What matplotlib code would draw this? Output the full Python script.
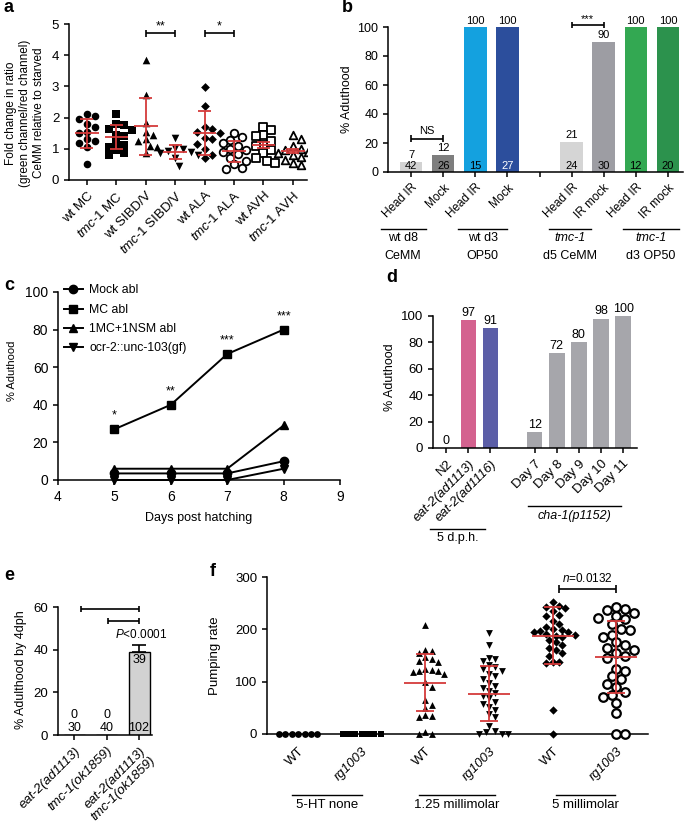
import numpy as np
import matplotlib
matplotlib.use("Agg")
import matplotlib.pyplot as plt

plt.rcParams['font.family'] = ['Liberation Sans', 'DejaVu Sans']
plt.rcParams['mathtext.fontset'] = 'custom'
plt.rcParams['mathtext.rm'] = 'Liberation Sans'
plt.rcParams['mathtext.it'] = 'Liberation Sans:italic'
plt.rcParams['font.size'] = 9
plt.rcParams['axes.linewidth'] = 1.1
plt.rcParams['xtick.major.width'] = 1.1
plt.rcParams['ytick.major.width'] = 1.1
plt.rcParams['xtick.major.size'] = 3.5
plt.rcParams['ytick.major.size'] = 3.5

RED = '#d43a3a'

# ---- panel a: fold change per neuron/genotype
a_labels = ['wt MC', r'$\it{tmc}$-$\it{1}$ MC', 'wt SIBD/V', r'$\it{tmc}$-$\it{1}$ SIBD/V',
            'wt ALA', r'$\it{tmc}$-$\it{1}$ ALA', 'wt AVH', r'$\it{tmc}$-$\it{1}$ AVH']
a_wt_mc = [2.1, 2.05, 1.95, 1.8, 1.7, 1.55, 1.5, 1.3, 1.25, 1.2, 1.05, 0.5]
a_tmc_mc = [2.1, 1.78, 1.75, 1.65, 1.6, 1.45, 1.4, 1.2, 1.12, 1.05, 0.95, 0.85, 0.8]
a_wt_sibd = [3.85, 2.72, 1.82, 1.55, 1.45, 1.3, 1.25, 1.08, 1.05, 0.85]
a_tmc_sibd = [1.35, 1.02, 1.0, 0.93, 0.9, 0.85, 0.8, 0.7, 0.45]
a_wt_ala = [2.97, 2.38, 1.7, 1.65, 1.55, 1.5, 1.35, 1.3, 1.15, 1.0, 0.8, 0.72]
a_tmc_ala = [1.5, 1.38, 1.28, 1.2, 1.1, 1.0, 0.95, 0.9, 0.82, 0.72, 0.62, 0.5, 0.4, 0.35]
a_wt_avh = [1.7, 1.6, 1.45, 1.4, 1.25, 1.12, 1.08, 0.95, 0.85, 0.72, 0.62, 0.55]
a_tmc_avh = [1.45, 1.3, 1.1, 1.0, 0.95, 0.9, 0.88, 0.8, 0.75, 0.65, 0.55, 0.48]
a_mean = [1.5, 1.38, 1.72, 0.9, 1.5, 0.92, 1.12, 0.92]
a_err = [0.47, 0.39, 0.92, 0.22, 0.71, 0.33, 0.1, 0.07]

# ---- panel b: head IR ablation
b_cats = ['Head IR', 'Mock', 'Head IR', 'Mock', 'Head IR', 'IR mock', 'Head IR', 'IR mock']
b_values = [7, 12, 100, 100, 21, 90, 100, 100]
b_n = [42, 26, 15, 27, 24, 30, 12, 20]
b_colors = ['#d2d2d2', '#7e7e7e', '#14a1df', '#2c4e9c', '#d5d5d5', '#9d9da3', '#33a852', '#2c924d']

# ---- panel c: adulthood over days
c_days = [5, 6, 7, 8]
c_mock = [3.5, 3.5, 3.5, 10]
c_mc = [27, 40, 67, 80]
c_mc_nsm = [6, 6, 6, 29]
c_ocr2 = [0, 0, 0, 6]
c_stars = ['*', '**', '***', '***']

# ---- panel d
d_cats = ['N2', 'eat-2(ad1113)', 'eat-2(ad1116)', 'Day 7', 'Day 8', 'Day 9', 'Day 10', 'Day 11']
d_values = [0, 97, 91, 12, 72, 80, 98, 100]
d_colors = ['#a6a6ab', '#d4628f', '#5b5ea7', '#a6a6ab', '#a6a6ab', '#a6a6ab', '#a6a6ab', '#a6a6ab']

# ---- panel e
e_cats = ['eat-2(ad1113)', 'tmc-1(ok1859)', 'eat-2(ad1113)\ntmc-1(ok1859)']
e_values = [0, 0, 39]
e_err = [0, 0, 3]
e_n = [30, 40, 102]

# ---- panel f: pumping rate
f_cats = ['WT', 'rg1003', 'WT', 'rg1003', 'WT', 'rg1003']
f_wt_none = [0, 0, 0, 0, 0, 0, 0]
f_rg_none = [0, 0, 0, 0, 0, 0, 0]
f_wt_125 = [208, 160, 158, 155, 147, 143, 140, 138, 125, 122, 120, 120, 118, 115, 100, 90,
            65, 55, 50, 37, 35, 33, 3, 0, 0]
f_rg_125 = [193, 170, 145, 143, 140, 132, 128, 125, 120, 115, 110, 105, 98, 92, 88, 82, 78,
            72, 68, 62, 58, 52, 45, 38, 32, 15, 5, 3, 0, 0, 0]
f_wt_5 = [252, 245, 243, 240, 235, 228, 225, 215, 210, 205, 200, 198, 197, 195, 195, 192, 190,
          188, 185, 180, 175, 170, 165, 160, 155, 150, 138, 137, 135, 45, 0]
f_rg_5 = [242, 238, 236, 232, 225, 222, 220, 210, 200, 198, 190, 185, 175, 170, 165, 160, 155,
          150, 145, 125, 120, 110, 105, 95, 90, 80, 75, 70, 60, 40, 0, 0]
f_mean = [0, 0, 98, 77, 188, 147]
f_err = [0, 0, 54, 52, 55, 69]


def swarm(vals, dx, dy, step=0.5):
    vals = np.asarray(vals, float)
    xs = np.zeros(len(vals))
    placed = []
    for i in np.argsort(-vals, kind='stable'):
        y = vals[i]
        for k in range(200):
            off = ((k + 1) // 2) * step * dx * (1 if k % 2 else -1)
            if all(((off - px) / dx) ** 2 + ((y - py) / dy) ** 2 >= 1 for px, py in placed):
                break
        xs[i] = off
        placed.append((off, y))
    return xs


def mean_sd(ax, x, m, s, mw, cw, lw=1.3):
    kw = dict(color=RED, lw=lw, zorder=5, solid_capstyle='butt')
    ax.plot([x - mw, x + mw], [m, m], **kw)
    ax.plot([x, x], [m - s, m + s], **kw)
    ax.plot([x - cw, x + cw], [m + s, m + s], **kw)
    ax.plot([x - cw, x + cw], [m - s, m - s], **kw)


def bracket(ax, x0, x1, y, h, lw=1.2):
    kw = dict(color='k', lw=lw, clip_on=False, solid_capstyle='butt')
    ax.plot([x0, x1], [y, y], **kw)
    ax.plot([x0, x0], [y - h, y + h], **kw)
    ax.plot([x1, x1], [y - h, y + h], **kw)


def clean(ax):
    ax.spines['top'].set_visible(False)
    ax.spines['right'].set_visible(False)


W, H = 685, 826
fig = plt.figure(figsize=(W / 100, H / 100), dpi=100)


def add_ax(l, r, t, b):
    return fig.add_axes([l / W, 1 - b / H, (r - l) / W, (b - t) / H])


# ================= a
ax = add_ax(69, 307, 24, 180)
clean(ax)
a_groups = [a_wt_mc, a_tmc_mc, a_wt_sibd, a_tmc_sibd, a_wt_ala, a_tmc_ala, a_wt_avh, a_tmc_avh]
a_markers = ['o', 's', '^', 'v', 'D', 'o', 's', '^']
a_filled = [True, True, True, True, True, False, False, False]
for i, g in enumerate(a_groups):
    xs = i + swarm(g, 0.26, 0.25)
    ms = 30 if a_markers[i] != 'D' else 20
    if a_filled[i]:
        ax.scatter(xs, g, s=ms, marker=a_markers[i], color='k', zorder=3, lw=0)
    else:
        ax.scatter(xs, g, s=ms, marker=a_markers[i], facecolor='white', edgecolor='k', lw=1.3, zorder=3)
    mean_sd(ax, i, a_mean[i], a_err[i], 0.4, 0.22)
ax.set_xlim(-0.61, 7.48)
ax.set_ylim(0, 5)
ax.set_yticks(range(6))
ax.set_xticks(range(8))
ax.set_xticklabels(a_labels, rotation=45, ha='right', rotation_mode='anchor', fontsize=9)
ax.tick_params(labelsize=9.5)
bracket(ax, 2, 3, 4.7, 0.12)
ax.text(2.5, 4.72, '**', ha='center', va='bottom', fontsize=9)
bracket(ax, 4, 5, 4.7, 0.12)
ax.text(4.5, 4.72, '*', ha='center', va='bottom', fontsize=9)
ax.text(-0.185, 0.43, 'Fold change in ratio\n(green channel/red channel)\nCeMM relative to starved',
        transform=ax.transAxes, rotation=90, ha='center', va='center', fontsize=8.5, linespacing=1.25)

# ================= b
ax = add_ax(388, 683, 27, 172)
clean(ax)
b_pos = np.r_[0:4, 5:9]
ax.bar(b_pos, b_values, width=0.7, color=b_colors)
for p, v, n, c in zip(b_pos, b_values, b_n, b_colors):
    ax.text(p, v + 1, str(v), ha='center', va='bottom', fontsize=8, clip_on=False)
    ax.text(p, 0.8, str(n), ha='center', va='bottom', fontsize=8,
            color='white' if c == '#2c4e9c' else 'k')
ax.set_xlim(-0.72, 8.47)
ax.set_ylim(0, 100)
ax.set_yticks(range(0, 101, 20))
ax.set_xticks(range(9))
ax.set_xticklabels(b_cats[:4] + [''] + b_cats[4:], rotation=45, ha='right', rotation_mode='anchor')
ax.tick_params(labelsize=9)
ax.tick_params(axis='x', labelsize=8.5)
bracket(ax, 0, 1, 23, 2.2)
ax.text(0.5, 25, 'NS', ha='center', va='bottom', fontsize=8)
bracket(ax, 5, 6, 101.5, 2.2)
ax.text(5.5, 102, '***', ha='center', va='bottom', fontsize=8)
tr = ax.get_xaxis_transform()
for (x0, x1), top, bot, it in [((-0.95, 0.45), 'wt d8', 'CeMM', False),
                               ((1.45, 3.0), 'wt d3', 'OP50', False),
                               ((4.3, 5.6), 'tmc-1', 'd5 CeMM', True),
                               ((6.6, 8.35), 'tmc-1', 'd3 OP50', True)]:
    ax.plot([x0, x1], [-0.393, -0.393], color='k', lw=1.0, transform=tr, clip_on=False)
    ax.text((x0 + x1) / 2, -0.415, top, transform=tr, ha='center', va='top',
            fontstyle='italic' if it else 'normal')
    ax.text((x0 + x1) / 2, -0.54, bot, transform=tr, ha='center', va='top')
ax.text(-0.14, 0.5, '% Aduthood', transform=ax.transAxes, rotation=90, ha='center', va='center')

# ================= c
ax = add_ax(58, 340, 292, 480)
clean(ax)
ms = 6
ax.plot(c_days, c_mock, '-o', color='k', lw=1.4, ms=ms, clip_on=False, label='Mock abl', zorder=3)
ax.plot(c_days, c_mc, '-s', color='k', lw=1.4, ms=ms, clip_on=False, label='MC abl', zorder=3)
ax.plot(c_days, c_mc_nsm, '-^', color='k', lw=1.4, ms=ms, clip_on=False, label='1MC+1NSM abl', zorder=3)
ax.plot(c_days, c_ocr2, '-v', color='k', lw=1.4, ms=ms, clip_on=False, label='ocr-2::unc-103(gf)', zorder=3)
for d, v, s in zip(c_days, c_mc, c_stars):
    ax.text(d, v + 4, s, ha='center', va='bottom', fontsize=9)
ax.set_xlim(4, 9)
ax.set_ylim(0, 100)
ax.set_xticks(range(4, 10))
ax.set_yticks(range(0, 101, 20))
ax.tick_params(labelsize=10)
ax.set_xlabel('Days post hatching', labelpad=6, fontsize=9)
ax.legend(loc='upper left', bbox_to_anchor=(0.02, 1.04), frameon=False, borderpad=0,
          borderaxespad=0, handlelength=1.6, handletextpad=0.5, labelspacing=0.6, fontsize=8.8)
ax.text(-0.163, 0.58, '% Aduthood', transform=ax.transAxes, rotation=90, ha='center', va='center',
        fontsize=8)

# ================= d
ax = add_ax(433, 637, 316, 448)
clean(ax)
d_pos = np.r_[0:3, 4:9]
ax.bar(d_pos, d_values, width=0.7, color=d_colors)
for p, v in zip(d_pos, d_values):
    ax.text(p, v + 1, str(v), ha='center', va='bottom', fontsize=9, clip_on=False)
ax.set_xlim(-0.6, 8.63)
ax.set_ylim(0, 100)
ax.set_yticks(range(0, 101, 20))
ax.set_xticks(d_pos)
ax.set_xticklabels(d_cats, rotation=45, ha='right', rotation_mode='anchor')
ax.tick_params(labelsize=9.5)
for lab in ax.get_xticklabels()[1:3]:
    lab.set_fontstyle('italic')
tr = ax.get_xaxis_transform()
ax.plot([3.7, 7.9], [-0.44, -0.44], color='k', lw=1.0, transform=tr, clip_on=False)
ax.text(5.8, -0.47, 'cha-1(p1152)', transform=tr, ha='center', va='top', fontstyle='italic')
ax.plot([-0.73, 1.77], [-0.61, -0.61], color='k', lw=1.0, transform=tr, clip_on=False)
ax.text(0.5, -0.64, '5 d.p.h.', transform=tr, ha='center', va='top')
ax.text(-0.21, 0.54, '% Aduthood', transform=ax.transAxes, rotation=90, ha='center', va='center')

# ================= e
ax = add_ax(58, 152, 607, 735)
clean(ax)
ax.bar(range(3), e_values, width=0.65, color='#d2d2d2', edgecolor='k', lw=1.0)
ax.errorbar([2], [e_values[2]], yerr=[[0], [e_err[2]]], color='k', capsize=5, lw=1.2, capthick=1.2)
for i, (v, n) in enumerate(zip(e_values, e_n)):
    if v == 0:
        ax.text(i, 9.3, str(v), ha='center', va='center')
    else:
        ax.text(i, v - 4, str(v), ha='center', va='center')
    ax.text(i, 3.1, str(n), ha='center', va='center')
ax.set_xlim(-0.5, 2.4)
ax.set_ylim(0, 60)
ax.set_yticks(range(0, 61, 20))
ax.set_xticks(range(3))
ax.set_xticklabels(e_cats, rotation=45, ha='right', rotation_mode='anchor', fontstyle='italic')
ax.tick_params(labelsize=9.5)
bracket(ax, 0.2, 2, 59, 1.5)
bracket(ax, 1.05, 2, 53.5, 1.5)
ax.text(2.05, 47, r'$\it{P}$<0.0001', ha='center', va='center', fontsize=8.5)
ax.text(-0.39, 0.51, '% Adulthood by 4dph', transform=ax.transAxes, rotation=90,
        ha='center', va='center')

# ================= f
ax = add_ax(267, 648, 577, 734)
clean(ax)
f_groups = [f_wt_none, f_rg_none, f_wt_125, f_rg_125, f_wt_5, f_rg_5]
f_markers = ['o', 's', '^', 'v', 'D', 'o']
for i, g in enumerate(f_groups):
    if i == 5:
        xs = i + swarm(g, 0.14, 17)
        ax.scatter(xs, g, s=38, marker='o', facecolor='white', edgecolor='k', lw=1.6,
                   zorder=3, clip_on=False)
    else:
        xs = i + swarm(g, 0.1, 12.5)
        sz = 18 if f_markers[i] == 'D' else 24
        ax.scatter(xs, g, s=sz, marker=f_markers[i], color='k', lw=0, zorder=3, clip_on=False)
    if f_mean[i] > 0:
        mean_sd(ax, i, f_mean[i], f_err[i], 0.33, 0.14, lw=1.3)
ax.set_xlim(-0.49, 5.5)
ax.set_ylim(0, 300)
ax.set_yticks(range(0, 301, 100))
ax.set_xticks(range(6))
ax.set_xticklabels(f_cats, rotation=45, ha='right', rotation_mode='anchor')
for lab in ax.get_xticklabels()[1::2]:
    lab.set_fontstyle('italic')
ax.tick_params(labelsize=9.5)
ax.tick_params(axis='x', length=0, pad=8)
bracket(ax, 4.1, 5.0, 277, 7)
ax.text(4.55, 285, r'$\it{n}$=0.0132', ha='center', va='bottom', fontsize=8.5)
tr = ax.get_xaxis_transform()
for (x0, x1), t in [((-0.1, 1.0), '5-HT none'), ((1.9, 3.1), '1.25 millimolar'),
                    ((4.06, 4.98), '5 millimolar')]:
    ax.plot([x0, x1], [-0.39, -0.39], color='k', lw=1.0, transform=tr, clip_on=False)
    ax.text((x0 + x1) / 2, -0.415, t, transform=tr, ha='center', va='top', fontsize=9.5)
ax.text(-0.136, 0.5, 'Pumping rate', transform=ax.transAxes, rotation=90, ha='center', va='center',
        fontsize=9.5)

# panel letters
for ch, x, y in [('a', 3, 8), ('b', 342, 7), ('c', 4, 285), ('d', 386, 278), ('e', 4, 575), ('f', 210, 572)]:
    fig.text(x / W, 1 - y / H, ch, fontsize=13, fontweight='bold', ha='left', va='center')

fig.savefig('out.png', dpi=100)
